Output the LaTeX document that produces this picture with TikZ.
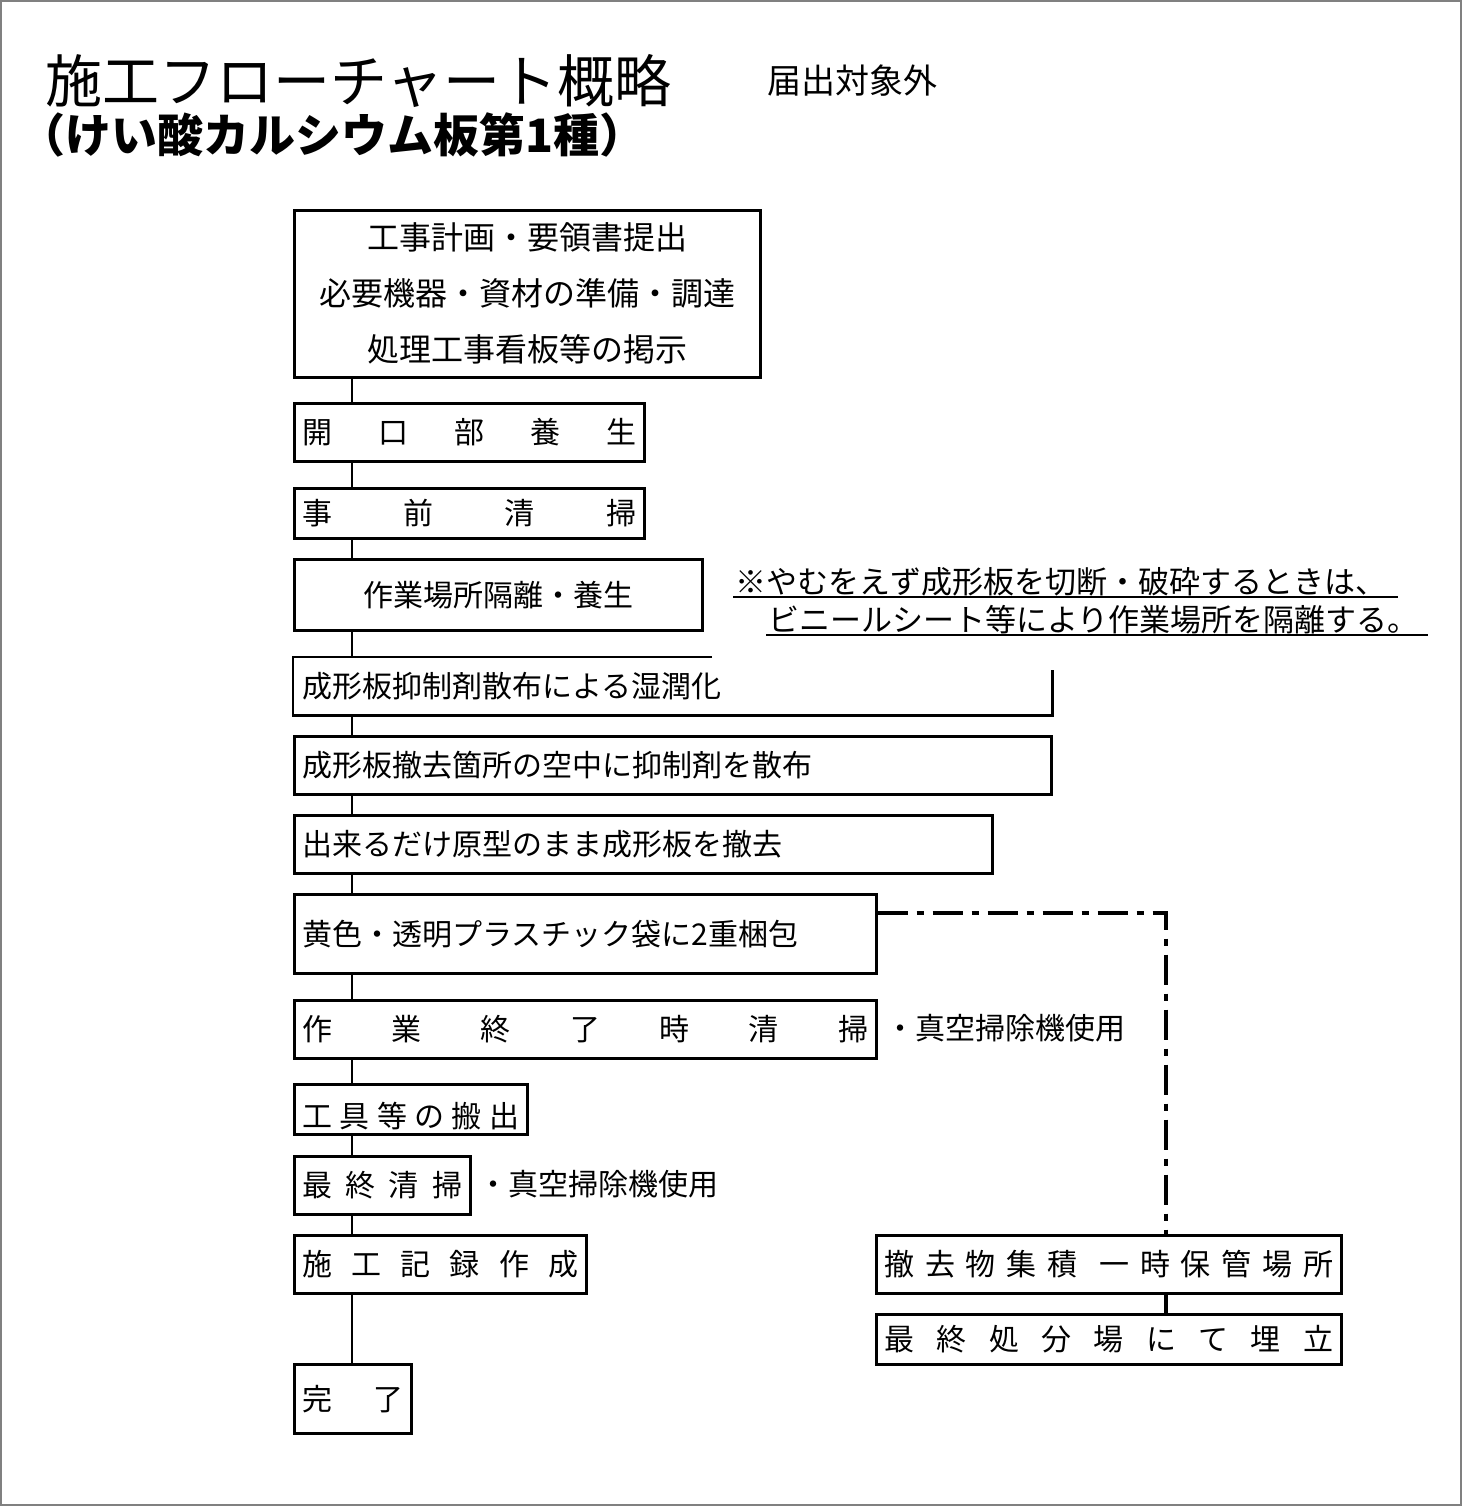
\documentclass[tikz,border=0pt]{standalone}
\usepackage{fontspec}
\setmainfont{Noto Sans CJK JP}
\newcommand{\myfs}[1]{\fontsize{#1}{#1}\selectfont}
\newcommand{\spreadtext}[2]{\hbox to #1{#2}}
\begin{document}
\begin{tikzpicture}[x=1pt,y=-1pt,
  box/.style={draw, line width=2.6pt, inner sep=0pt, anchor=north west, font=\myfs{30}},
  conn/.style={line width=2.6pt},
  dd/.style={line width=4.5pt, dash pattern=on 30pt off 9pt on 7pt off 9pt},
  lbl/.style={inner sep=0pt, anchor=west},
]
\useasboundingbox (0,0) rectangle (1462,1506);
\draw[gray, line width=2pt] (1,1) rectangle (1461,1505);

% titles
\node[lbl, font=\myfs{57}] (t1) at (45,81) {施工フローチャート概略};
\node[lbl, font=\myfs{46}\bfseries] (t2) at (19,135) {（けい酸カルシウム板第1種）};
\node[lbl, font=\myfs{34}] (t3) at (767,81) {届出対象外};

% main flow
\node[box, minimum width=466pt, minimum height=167pt, align=center,
      font=\fontsize{32}{56}\selectfont] (b1) at (293,209)
  {工事計画・要領書提出\\必要機器・資材の準備・調達\\処理工事看板等の掲示};
\node[box, minimum width=350pt, minimum height=58pt] (b2) at (293,402)
  {\spreadtext{334pt}{開\hfill 口\hfill 部\hfill 養\hfill 生}};
\node[box, minimum width=350pt, minimum height=50pt] (b3) at (293,487)
  {\spreadtext{334pt}{事\hfill 前\hfill 清\hfill 掃}};
\node[box, minimum width=408pt, minimum height=71pt] (b4) at (293,558)
  {作業場所隔離・養生};
\node[box, draw=none, minimum width=757pt, minimum height=56pt, text width=741pt, align=left] (b5) at (293,657)
  {成形板抑制剤散布による湿潤化};
\node[box, minimum width=757pt, minimum height=58pt, text width=741pt, align=left] (b6) at (293,735)
  {成形板撤去箇所の空中に抑制剤を散布};
\node[box, minimum width=698pt, minimum height=58pt, text width=682pt, align=left] (b7) at (293,814)
  {出来るだけ原型のまま成形板を撤去};
\node[box, minimum width=582pt, minimum height=79pt, text width=566pt, align=left] (b8) at (293,893)
  {黄色・透明プラスチック袋に2重梱包};
\node[box, minimum width=582pt, minimum height=58pt] (b9) at (293,999)
  {\spreadtext{566pt}{作\hfill 業\hfill 終\hfill 了\hfill 時\hfill 清\hfill 掃}};
\node[box, minimum width=233pt, minimum height=50pt, text height=40pt, text depth=3.6pt] (b10) at (293,1083)
  {\spreadtext{217pt}{工\hfill 具\hfill 等\hfill の\hfill 搬\hfill 出}};
\node[box, minimum width=176pt, minimum height=58pt] (b11) at (293,1155)
  {\spreadtext{160pt}{最\hfill 終\hfill 清\hfill 掃}};
\node[box, minimum width=292pt, minimum height=58pt] (b12) at (293,1234)
  {\spreadtext{276pt}{施\hfill 工\hfill 記\hfill 録\hfill 作\hfill 成}};
\node[box, minimum width=117pt, minimum height=69pt] (b13) at (293,1363)
  {\spreadtext{101pt}{完\hfill 了}};

% right flow
\node[box, minimum width=465pt, minimum height=58pt] (r1) at (875,1234)
  {\spreadtext{449pt}{撤\hfill 去\hfill 物\hfill 集\hfill 積\hfill\hfill 一\hfill 時\hfill 保\hfill 管\hfill 場\hfill 所}};
\node[box, minimum width=465pt, minimum height=50pt] (r2) at (875,1313)
  {\spreadtext{449pt}{最\hfill 終\hfill 処\hfill 分\hfill 場\hfill に\hfill て\hfill 埋\hfill 立}};

% side notes
\node[lbl, font=\myfs{30}] (v1) at (885,1028) {・真空掃除機使用};
\node[lbl, font=\myfs{30}] (v2) at (478,1184) {・真空掃除機使用};
\node[lbl, font=\myfs{31}] (n1) at (735,582) {※やむをえず成形板を切断・破砕するときは、};
\node[lbl, font=\myfs{31}] (n2) at (768,620) {ビニールシート等により作業場所を隔離する。};
\draw[line width=2pt] ([xshift=-2pt]n1.south west) -- ([xshift=12pt]n1.south east);
\draw[line width=2pt] ([xshift=-2pt]n2.south west) -- ([xshift=9pt]n2.south east);

% wet box outline (open top right)
\draw[conn] ([xshift=419pt]b5.north west) -- (b5.north west) -- (b5.south west)
  -- (b5.south east) -- ([yshift=-13pt]b5.north east);

% connectors
\foreach \a/\b in {b1/b2,b2/b3,b3/b4,b4/b5,b5/b6,b6/b7,b7/b8,b8/b9,b9/b10,b10/b11,b11/b12,b12/b13}
  \draw[conn] ([xshift=59pt]\a.south west) -- ([xshift=59pt]\b.north west);

% waste route
\draw[dd] ([yshift=-20pt]b8.north east) -| ([xshift=291pt]r1.north west);
\draw[dd] ([xshift=291pt]r1.south west) -- ([xshift=291pt]r2.north west);
\end{tikzpicture}
\end{document}
